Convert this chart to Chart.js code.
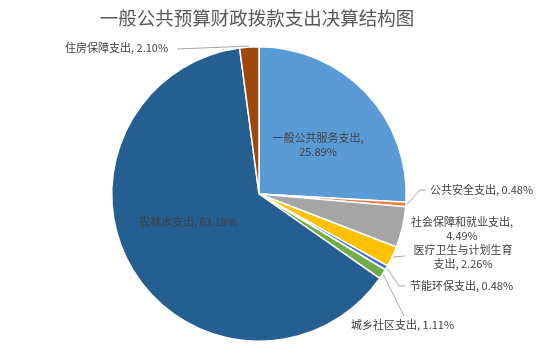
<!DOCTYPE html>
<html>
<head>
<meta charset="utf-8">
<script src="https://cdn.jsdelivr.net/npm/chart.js@4"></script>
<style>
  html, body { margin: 0; padding: 0; background: #fff; }
  #wrap { width: 558px; height: 353px; position: relative; }
</style>
</head>
<body>
<div id="wrap"><canvas id="pieChart"></canvas></div>
<script>
const titleText = '一般公共预算财政拨款支出决算结构图';
const categories = ['一般公共服务支出', '公共安全支出', '社会保障和就业支出', '医疗卫生与计划生育支出', '节能环保支出', '城乡社区支出', '农林水支出', '住房保障支出'];
const shares = [25.89, 0.48, 4.49, 2.26, 0.48, 1.11, 63.19, 2.10];
const colors = ['#5B9BD5', '#ED7D31', '#A5A5A5', '#FFC000', '#4472C4', '#70AD47', '#255E91', '#9E480E'];

// label placement: text lines, anchor point, alignment, optional leader line end
const labelLayout = [
  { lines: ['一般公共服务支出,', '25.89%'], x: 318, y: 138, align: 'center' },
  { lines: ['公共安全支出, 0.48%'], x: 430, y: 190, align: 'left', lead: [[420, 190], [426, 190]] },
  { lines: ['社会保障和就业支出,', '4.49%'], x: 462, y: 222, align: 'center' },
  { lines: ['医疗卫生与计划生育', '支出, 2.26%'], x: 463, y: 250, align: 'center', lead: [[405, 256]] },
  { lines: ['节能环保支出, 0.48%'], x: 410, y: 286, align: 'left', lead: [[399, 286], [405, 286]] },
  { lines: ['城乡社区支出, 1.11%'], x: 351, y: 325, align: 'left', lead: [[404, 316]] },
  { lines: ['农林水支出, 63.19%'], x: 188, y: 222, align: 'center' },
  { lines: ['住房保障支出, 2.10%'], x: 65, y: 48, align: 'left', lead: [[177, 49]] }
];

const labelPlugin = {
  id: 'pieLabels',
  afterDraw(chart) {
    const ctx = chart.ctx;
    ctx.save();
    // title
    ctx.font = '18.5px "Noto Sans CJK SC", sans-serif';
    ctx.fillStyle = '#595959';
    ctx.textAlign = 'center';
    ctx.textBaseline = 'middle';
    ctx.fillText(titleText, 257, 18);

    const meta = chart.getDatasetMeta(0);
    ctx.font = '11px "Noto Sans CJK SC", sans-serif';
    meta.data.forEach((arc, i) => {
      const lay = labelLayout[i];
      if (!lay) return;
      if (lay.lead) {
        const p = arc.getProps(['x', 'y', 'startAngle', 'endAngle', 'outerRadius'], true);
        const mid = (p.startAngle + p.endAngle) / 2;
        ctx.strokeStyle = '#A6A6A6';
        ctx.lineWidth = 1;
        ctx.beginPath();
        ctx.moveTo(p.x + Math.cos(mid) * (p.outerRadius + 1), p.y + Math.sin(mid) * (p.outerRadius + 1));
        lay.lead.forEach(pt => ctx.lineTo(pt[0], pt[1]));
        ctx.stroke();
      }
      ctx.fillStyle = '#404040';
      ctx.textAlign = lay.align;
      ctx.textBaseline = 'middle';
      lay.lines.forEach((t, k) => ctx.fillText(t, lay.x, lay.y + k * 14));
    });
    ctx.restore();
  }
};

new Chart(document.getElementById('pieChart'), {
  type: 'pie',
  data: {
    labels: categories,
    datasets: [{
      data: shares,
      backgroundColor: colors,
      borderColor: '#ffffff',
      borderWidth: 1.5
    }]
  },
  options: {
    responsive: true,
    maintainAspectRatio: false,
    animation: false,
    layout: { padding: { left: 111, right: 151, top: 46, bottom: 11 } },
    plugins: {
      legend: { display: false },
      title: { display: false },
      tooltip: { enabled: false }
    }
  },
  plugins: [labelPlugin]
});
</script>
</body>
</html>
